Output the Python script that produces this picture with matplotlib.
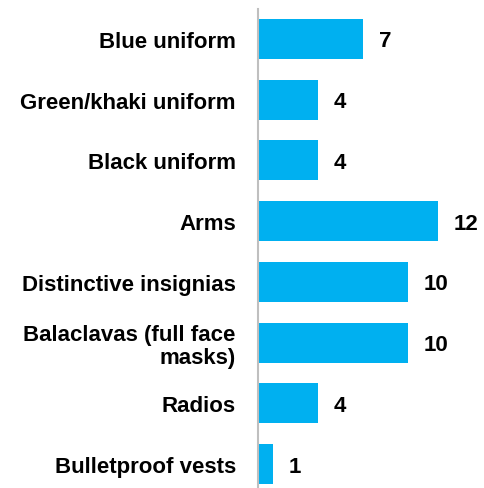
import matplotlib.pyplot as plt

categories = [
    "Blue uniform",
    "Green/khaki uniform",
    "Black uniform",
    "Arms",
    "Distinctive insignias",
    "Balaclavas (full face\nmasks)",
    "Radios",
    "Bulletproof vests",
]
counts = [7, 4, 4, 12, 10, 10, 4, 1]

BAR_COLOR = "#00B0F0"

plt.rcParams["font.family"] = ["Liberation Sans", "DejaVu Sans"]

fig = plt.figure(figsize=(4.85, 4.89), dpi=100)
ax = fig.add_axes([258 / 485, 0, 227 / 485, 479 / 489])

ypos = list(range(len(categories)))
ax.barh(ypos, counts, height=0.66, color=BAR_COLOR)

for y, v in zip(ypos, counts):
    ax.annotate(
        str(v),
        xy=(v, y),
        xytext=(16, -2),
        textcoords="offset pixels",
        ha="left",
        va="center",
        fontsize=16,
        fontweight="bold",
    )

ax.set_xlim(0, 15.13)
ax.set_ylim(7 + 0.395, -0.494)
ax.set_yticks(ypos)
ax.set_yticklabels(categories, fontsize=16, fontweight="bold", linespacing=1.1)
ax.tick_params(axis="y", length=0, pad=16)
ax.set_xticks([])

for side in ["top", "right", "bottom"]:
    ax.spines[side].set_visible(False)
ax.spines["left"].set_color("#BFBFBF")
ax.spines["left"].set_linewidth(1.5)

fig.savefig("out.png", dpi=100)
